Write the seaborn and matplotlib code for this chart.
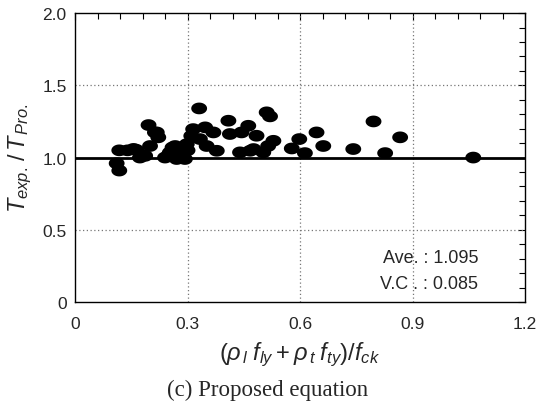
import matplotlib
matplotlib.use('Agg')
import matplotlib.pyplot as plt
import numpy as np
import pandas as pd
import seaborn as sns
from matplotlib.path import Path
from matplotlib.ticker import MultipleLocator

# ratio parameter (x) and T_exp/T_pro (y)
x_vals = [0.118, 0.111, 0.118, 0.163, 0.187, 0.196, 0.218, 0.222, 0.200, 0.173,
          0.253, 0.267, 0.271, 0.293, 0.298, 0.331, 0.315, 0.347, 0.333, 0.369,
          0.351, 0.378, 0.409, 0.413, 0.444, 0.462, 0.484, 0.440, 0.467, 0.502,
          0.511, 0.520, 0.529, 0.515, 0.578, 0.598, 0.613, 0.644, 0.662, 0.742,
          0.796, 0.827, 0.867, 1.062, 0.140, 0.260, 0.280, 0.300, 0.310, 0.240,
          0.250, 0.476, 0.156, 0.213]
y_vals = [1.05, 0.96, 0.91, 1.054, 1.012, 1.225, 1.174, 1.14, 1.08, 1.00,
          1.036, 1.08, 0.99, 0.99, 1.093, 1.34, 1.197, 1.209, 1.128, 1.174,
          1.08, 1.047, 1.255, 1.163, 1.174, 1.22, 1.151, 1.036, 1.047, 1.036,
          1.313, 1.285, 1.116, 1.08, 1.063, 1.128, 1.031, 1.174, 1.08, 1.059,
          1.25, 1.031, 1.14, 1.00, 1.05, 1.07, 1.02, 1.05, 1.15, 1.00,
          1.02, 1.059, 1.06, 1.174]

ave_text = 'Ave. : 1.095'
vc_text = 'V.C . : 0.085'

df = pd.DataFrame({'x': x_vals, 'y': y_vals})

sns.set_theme(style='white')
plt.rcParams['font.family'] = ['Liberation Sans', 'DejaVu Sans']
plt.rcParams['mathtext.fontset'] = 'custom'
plt.rcParams['mathtext.it'] = 'Liberation Sans:italic'
plt.rcParams['mathtext.rm'] = 'Liberation Sans'

# wide ellipse marker
t = np.linspace(0, 2 * np.pi, 60)
ellipse = Path(np.column_stack([np.cos(t), 0.74 * np.sin(t)]), closed=True)

fig = plt.figure(figsize=(5.36, 4.14), dpi=100)
ax = fig.add_axes([0.14, 0.268, 0.8395, 0.698])

# dotted grid
for gx in [0.3, 0.6, 0.9]:
    ax.axvline(gx, color='#777777', linestyle=(0, (1, 2)), linewidth=0.9, zorder=1)
for gy in [0.5, 1.5]:
    ax.axhline(gy, color='#777777', linestyle=(0, (1, 2)), linewidth=0.9, zorder=1)

sns.scatterplot(data=df, x='x', y='y', marker=ellipse, s=130, color='black',
                edgecolor='none', linewidth=0, ax=ax, zorder=3, legend=False)
ax.axhline(1.0, color='black', linewidth=2.0, zorder=4)

ax.set_xlim(0, 1.2)
ax.set_ylim(0, 2.0)
ax.xaxis.set_major_locator(MultipleLocator(0.3))
ax.xaxis.set_minor_locator(MultipleLocator(0.06))
ax.yaxis.set_major_locator(MultipleLocator(0.5))
ax.yaxis.set_minor_locator(MultipleLocator(0.1))
ax.set_xticks([0, 0.3, 0.6, 0.9, 1.2])
ax.set_xticklabels(['0', '0.3', '0.6', '0.9', '1.2'])
ax.set_yticks([0, 0.5, 1.0, 1.5, 2.0])
ax.set_yticklabels(['0', '0.5', '1.0', '1.5', '2.0'])
ax.tick_params(which='both', direction='in', top=True, right=True,
               labelsize=12.5, color='black', width=0.8)
ax.tick_params(which='major', length=5)
ax.tick_params(axis='x', which='major', pad=10)
ax.tick_params(axis='y', which='major', pad=6)
ax.tick_params(which='minor', length=4)
for sp in ax.spines.values():
    sp.set_color('black')
    sp.set_linewidth(1.0)

ax.set_xlabel(r'$(\rho_{\,l}\;f_{ly} + \rho_{\,t}\;f_{ty})/f_{ck}$', fontsize=17, labelpad=6)
ax.set_ylabel(r'$T_{exp.}\,/\,T_{\,Pro.}$', fontsize=17, labelpad=6)

ax.text(1.075, 0.31, ave_text, ha='right', va='center', fontsize=13)
ax.text(1.075, 0.125, vc_text, ha='right', va='center', fontsize=13)

fig.text(0.5, 0.058, '(c) Proposed equation', ha='center', va='center',
         fontsize=16.5, family=['Liberation Serif', 'DejaVu Serif'])

fig.savefig('out.png', dpi=100)
